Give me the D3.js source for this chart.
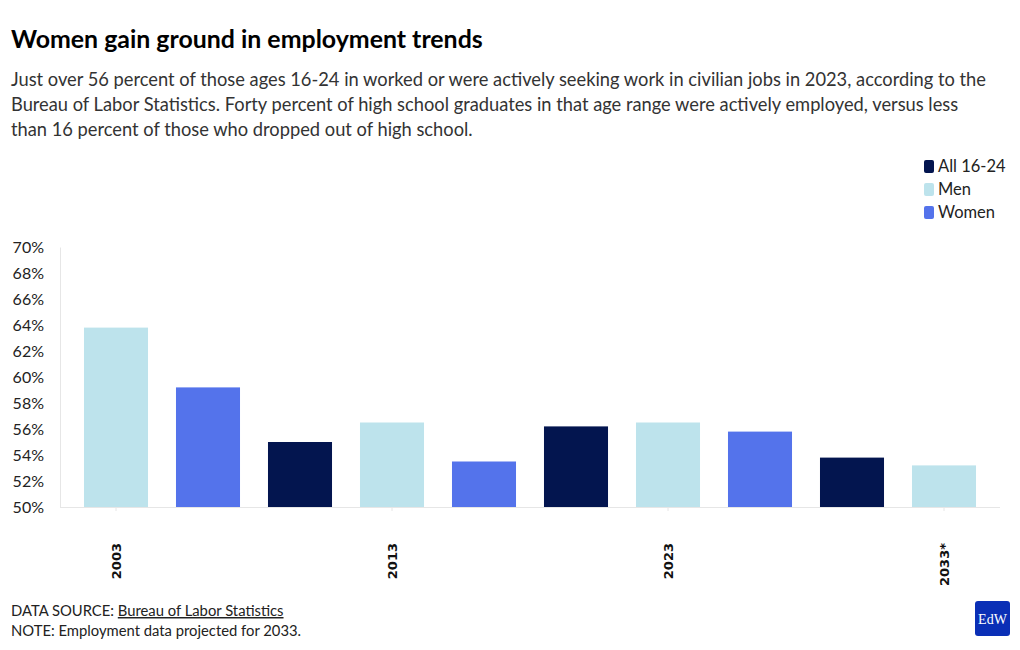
<!DOCTYPE html>
<html>
<head>
<meta charset="utf-8">
<script src="https://cdn.jsdelivr.net/npm/d3@7"></script>
<style>
  body { margin: 0; background: #fff; }
  svg { display: block; }
</style>
</head>
<body>
<svg id="chart" width="1020" height="650"></svg>
<script>
const categories = ["2003 Men", "2003 Women", "2003 All", "2013 Men", "2013 Women", "2013 All", "2023 Men", "2023 Women", "2023 All", "2033 Men"];
const groups = ["Men", "Women", "All 16-24", "Men", "Women", "All 16-24", "Men", "Women", "All 16-24", "Men"];
const values = [63.8, 59.2, 55.0, 56.5, 53.5, 56.2, 56.5, 55.8, 53.8, 53.2];
const tickCategories = ["2003 Men", "2013 Men", "2023 Men", "2033 Men"];
const tickLabels = ["2003", "2013", "2023", "2033*"];
const legendItems = ["All 16-24", "Men", "Women"];
const legendColors = ["#03154f", "#bde3ec", "#5473eb"];
const yTicks = [50, 52, 54, 56, 58, 60, 62, 64, 66, 68, 70];

const svg = d3.select("#chart");
const font = "'Source Sans Pro', Lato, 'Open Sans', sans-serif";

svg.append("text").attr("x", 11).attr("y", 48)
  .attr("font-family", font).attr("font-weight", 700).attr("font-size", 24.9)
  .attr("fill", "#000").text("Women gain ground in employment trends");

const sub = [
  "Just over 56 percent of those ages 16-24 in worked or were actively seeking work in civilian jobs in 2023, according to the",
  "Bureau of Labor Statistics. Forty percent of high school graduates in that age range were actively employed, versus less",
  "than 16 percent of those who dropped out of high school."
];
svg.append("g").selectAll("text").data(sub).join("text")
  .attr("x", 11).attr("y", (d, i) => 86 + i * 25)
  .attr("font-family", font).attr("font-size", 18.3).attr("fill", "#333")
  .text(d => d);

const color = d3.scaleOrdinal().domain(legendItems).range(legendColors);

const x = d3.scaleBand().domain(categories).range([70, 990]).paddingInner(0.304).paddingOuter(0.152);
const y = d3.scaleLinear().domain([50, 70]).range([507, 247]);

// y axis
const yAxis = svg.append("g").attr("transform", "translate(60,0)")
  .call(d3.axisLeft(y).tickValues(yTicks).tickFormat(d => d + "%").tickSize(0).tickPadding(16));
yAxis.select(".domain").attr("stroke", "#e6e6e6");
yAxis.selectAll("text").attr("font-family", font).attr("font-size", 16).attr("fill", "#222");

// bars
svg.append("g").selectAll("rect").data(values).join("rect")
  .attr("x", (d, i) => x(categories[i]))
  .attr("width", x.bandwidth())
  .attr("y", d => y(d))
  .attr("height", d => y(50) - y(d))
  .attr("fill", (d, i) => color(groups[i]));

// x axis
const xAxis = svg.append("g").attr("transform", "translate(0,507)")
  .call(d3.axisBottom(x).tickValues(tickCategories).tickSize(4)
    .tickFormat((d) => tickLabels[tickCategories.indexOf(d)]));
xAxis.select(".domain").attr("d", "M60,0.5H1000").attr("stroke", "#e6e6e6");
xAxis.selectAll(".tick line").attr("stroke", "#e6e6e6");
xAxis.selectAll(".tick text")
  .attr("font-family", "'DejaVu Sans', sans-serif").attr("font-weight", 700).attr("font-size", 13)
  .attr("fill", "#111")
  .attr("text-anchor", "end")
  .attr("transform", "rotate(-90)")
  .attr("x", -36).attr("y", 0).attr("dy", "0.35em");

// legend
const leg = svg.append("g").selectAll("g").data(legendItems).join("g")
  .attr("transform", (d, i) => `translate(924,${160 + i * 23})`);
leg.append("rect").attr("width", 10).attr("height", 13).attr("rx", 2)
  .attr("fill", (d, i) => legendColors[i]);
leg.append("text").attr("x", 14).attr("y", 12)
  .attr("font-family", font).attr("font-size", 16.5).attr("fill", "#222").text(d => d);

// footer
const foot = svg.append("text").attr("x", 11).attr("y", 616)
  .attr("font-family", font).attr("font-size", 14.8).attr("fill", "#222");
foot.append("tspan").text("DATA SOURCE: ");
foot.append("tspan").attr("text-decoration", "underline").text("Bureau of Labor Statistics");
svg.append("text").attr("x", 11).attr("y", 636)
  .attr("font-family", font).attr("font-size", 14.8).attr("fill", "#222")
  .text("NOTE: Employment data projected for 2033.");

// logo
svg.append("rect").attr("x", 975).attr("y", 601).attr("width", 35).attr("height", 35).attr("rx", 3)
  .attr("fill", "#0a2fb6");
svg.append("text").attr("x", 992.5).attr("y", 624).attr("text-anchor", "middle")
  .attr("font-family", "'Liberation Serif', serif").attr("font-size", 14).attr("fill", "#fff")
  .text("EdW");
</script>
</body>
</html>
